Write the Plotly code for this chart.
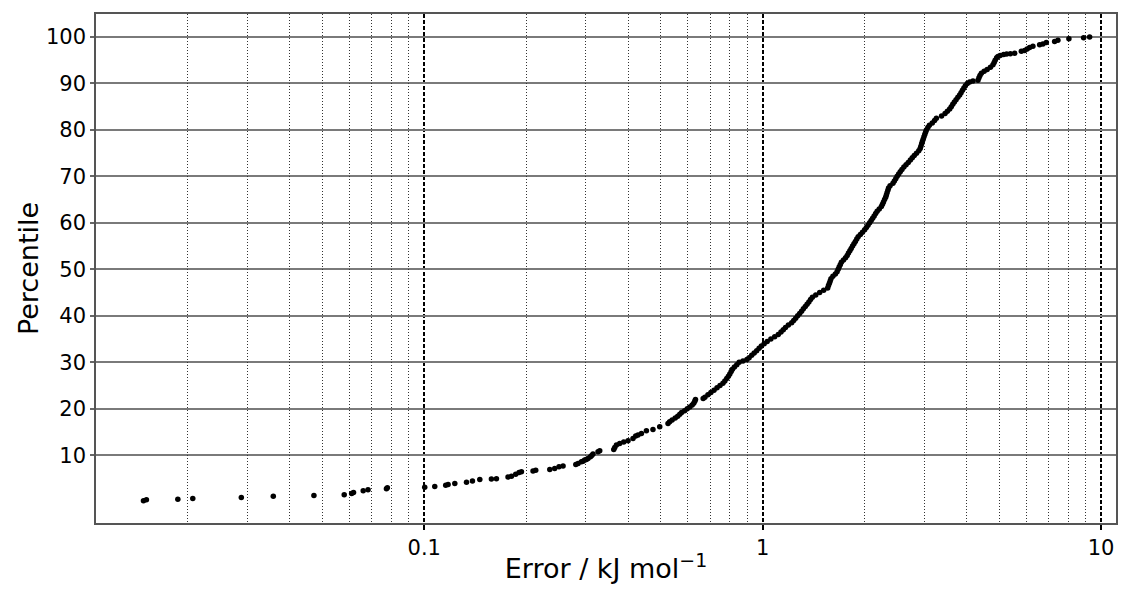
import plotly.graph_objects as go

# Cumulative error distribution
error_kj = [
    0.0148, 0.0151, 0.0187, 0.0207, 0.0288, 0.0358, 0.0472, 0.0580, 0.0610, 0.0618,
    0.0660, 0.0682, 0.0773, 0.0778, 0.1003, 0.1074, 0.1157, 0.1176, 0.1231, 0.1333,
    0.1388, 0.1459, 0.1579, 0.1634, 0.1768, 0.1810, 0.1863, 0.1906, 0.1937, 0.2096,
    0.2135, 0.2349, 0.2429, 0.2501, 0.2571, 0.2804, 0.2848, 0.2913, 0.2946, 0.2979,
    0.3013, 0.3047, 0.3097, 0.3125, 0.3152, 0.3262, 0.3300,
    0.3630, 0.3655, 0.3697, 0.3780, 0.3885, 0.4000, 0.4138, 0.4215, 0.4282, 0.4382,
    0.4533, 0.4740, 0.4963, 0.5251,
    0.531, 0.540, 0.5515, 0.561, 0.569, 0.576, 0.588, 0.5985, 0.609, 0.619, 0.6255, 0.630, 0.633,
    0.667, 0.675, 0.689, 0.703, 0.718, 0.733, 0.748, 0.763, 0.773, 0.783, 0.792, 0.7995,
    0.807, 0.814, 0.825, 0.8385, 0.852, 0.8745, 0.898, 0.9118, 0.9279, 0.9438, 0.9600,
    0.9758, 0.9912, 1.0103, 1.0311, 1.0573, 1.0851, 1.1119, 1.1326, 1.1505, 1.1678,
    1.1911, 1.2181, 1.2348, 1.2517, 1.2689, 1.2862, 1.3030, 1.3190, 1.3362, 1.3526,
    1.3693, 1.3852, 1.4023, 1.4351, 1.4737, 1.5144, 1.5561, 1.5646, 1.5742, 1.5828,
    1.5914, 1.6122, 1.6398, 1.6589, 1.6713, 1.6827, 1.6954, 1.7081, 1.7327, 1.7576,
    1.7769, 1.7927, 1.8098, 1.8260, 1.8434, 1.8611, 1.8789, 1.8969, 1.9151, 1.9440,
    1.9720, 2.0014, 2.0247, 2.0469, 2.0707, 2.0919, 2.1133, 2.1350, 2.1569, 2.1790,
    2.2104, 2.2422, 2.2591, 2.2745, 2.2916, 2.3088, 2.3198, 2.3309, 2.3436, 2.3548,
    2.3790, 2.4264, 2.4496, 2.4730, 2.4967, 2.5223, 2.5499, 2.5795, 2.6131, 2.6525,
    2.6925, 2.7314, 2.7669, 2.8048, 2.8471, 2.8920, 2.9197, 2.9336, 2.9496, 2.9637,
    2.9799, 2.9961, 3.0125, 3.0290, 3.0455, 3.0767, 3.1083, 3.1702, 3.2202, 3.2599,
    3.3772, 3.4586, 3.5133, 3.5687, 3.6078, 3.6448, 3.6847, 3.7276, 3.7735, 3.8199,
    3.8564, 3.8934, 3.9307, 3.9710, 4.0227, 4.0889, 4.1817,
    4.3264, 4.3559, 4.3857, 4.4276, 4.5127, 4.6058, 4.7103, 4.7910, 4.8304, 4.8633,
    4.9132, 4.9569, 5.0316, 5.1527, 5.2590,
    5.3930, 5.5531, 5.8120, 5.9429, 6.0447, 6.1484, 6.2880, 6.5810, 6.7305, 6.8880,
    7.2878, 7.4533, 8.0330, 8.8775, 9.2478,
]

percentile = [
    0.23, 0.45, 0.56, 0.71, 0.93, 1.21, 1.36, 1.49, 1.80, 2.00,
    2.35, 2.56, 2.78, 2.99, 3.10, 3.30, 3.57, 3.72, 3.94, 4.22,
    4.44, 4.80, 4.87, 4.93, 5.30, 5.51, 5.94, 6.31, 6.44, 6.59,
    6.80, 6.95, 7.17, 7.52, 7.67, 8.03, 8.25, 8.59, 8.74, 8.96,
    9.10, 9.32, 9.67, 9.97, 10.25, 10.75, 10.96,
    11.26, 11.69, 12.19, 12.55, 12.83, 13.11, 13.63, 14.13, 14.34, 14.71,
    15.27, 15.57, 16.13, 16.86,
    17.2, 17.6, 18.0, 18.4, 18.8, 19.2, 19.6, 20.0, 20.4, 20.8, 21.2, 21.6, 22.0,
    22.2, 22.5, 23.0, 23.5, 24.0, 24.5, 25.0, 25.5, 26.0, 26.5, 27.0, 27.5,
    28.0, 28.5, 29.0, 29.5, 30.0, 30.3, 30.6, 31.0, 31.5, 32.0, 32.5,
    33.0, 33.5, 34.0, 34.5, 35.0, 35.5, 36.0, 36.5, 37.0, 37.5,
    38.0, 38.5, 39.0, 39.5, 40.0, 40.5, 41.0, 41.5, 42.0, 42.5,
    43.0, 43.5, 44.0, 44.5, 45.0, 45.5, 46.0, 46.5, 47.0, 47.5,
    48.0, 48.5, 49.0, 49.5, 50.0, 50.5, 51.0, 51.5, 52.0, 52.5,
    53.0, 53.5, 54.0, 54.5, 55.0, 55.5, 56.0, 56.5, 57.0, 57.5,
    58.0, 58.5, 59.0, 59.5, 60.0, 60.5, 61.0, 61.5, 62.0, 62.5,
    63.0, 63.5, 64.0, 64.5, 65.0, 65.5, 66.0, 66.5, 67.0, 67.5,
    68.0, 68.5, 69.0, 69.5, 70.0, 70.5, 71.0, 71.5, 72.0, 72.5,
    73.0, 73.5, 74.0, 74.5, 75.0, 75.5, 76.0, 76.5, 77.0, 77.5,
    78.0, 78.5, 79.0, 79.5, 80.0, 80.5, 81.0, 81.5, 82.0, 82.5,
    83.0, 83.5, 84.0, 84.5, 85.0, 85.5, 86.0, 86.5, 87.0, 87.5,
    88.0, 88.5, 89.0, 89.5, 90.0, 90.3, 90.5,
    90.7, 91.2, 91.7, 92.2, 92.6, 93.0, 93.5, 94.0, 94.5, 95.0,
    95.5, 95.8, 96.0, 96.2, 96.3,
    96.4, 96.5, 96.9, 97.1, 97.4, 97.7, 98.0, 98.3, 98.5, 98.8,
    99.0, 99.3, 99.6, 99.8, 100.0,
]

x_major_ticks = [0.1, 1, 10]
x_major_labels = ["0.1", "1", "10"]
x_minor_ticks = [0.02, 0.03, 0.04, 0.05, 0.06, 0.07, 0.08, 0.09,
                 0.2, 0.3, 0.4, 0.5, 0.6, 0.7, 0.8, 0.9,
                 2, 3, 4, 5, 6, 7, 8, 9]
y_ticks = [10, 20, 30, 40, 50, 60, 70, 80, 90, 100]

FONT = "DejaVu Sans"
X_RANGE = [-1.970, 1.044]
Y_RANGE = [-4.57, 104.93]

fig = go.Figure()
# invisible trace on the overlay axis that carries the minor (dotted) grid
fig.add_trace(go.Scatter(
    x=error_kj, y=percentile, mode="markers", xaxis="x2",
    marker=dict(color="rgba(0,0,0,0)", size=1), showlegend=False, hoverinfo="skip",
))
fig.add_trace(go.Scatter(
    x=error_kj, y=percentile, mode="markers",
    marker=dict(color="black", size=5.5, line=dict(width=0)),
    showlegend=False, hoverinfo="x+y",
))

# the page body has an 8px margin, so the figure is sized to fit inside it
fig.update_layout(
    width=1111, height=576,
    margin=dict(l=88, r=3, t=6, b=61),
    paper_bgcolor="white", plot_bgcolor="white",
    font=dict(family=FONT, size=21, color="black"),
    xaxis=dict(
        type="log", range=X_RANGE, automargin=False,
        tickmode="array", tickvals=x_major_ticks, ticktext=x_major_labels,
        ticks="outside", ticklen=5, tickwidth=1.5, tickcolor="black",
        showgrid=True, gridcolor="black", gridwidth=1.5, griddash="4px,2px",
        showline=True, linecolor="#555555", linewidth=1.5, mirror=True,
        zeroline=False,
        title=dict(text="Error / kJ mol<sup>−1</sup>", font=dict(size=27, family=FONT),
                   standoff=17),
        tickfont=dict(size=21, family=FONT),
    ),
    xaxis2=dict(
        type="log", range=X_RANGE, overlaying="x", side="bottom", automargin=False,
        tickmode="array", tickvals=x_minor_ticks, showticklabels=False, ticks="",
        showgrid=True, gridcolor="#333333", gridwidth=1, griddash="1px,2px",
        showline=False, zeroline=False,
    ),
    yaxis=dict(
        range=Y_RANGE, automargin=False,
        tickmode="array", tickvals=y_ticks,
        ticks="outside", ticklen=4, tickwidth=1.5, tickcolor="#666666",
        showgrid=True, gridcolor="#7a7a7a", gridwidth=1.5,
        showline=True, linecolor="#555555", linewidth=1.5, mirror=True,
        zeroline=False,
        title=dict(text="Percentile", font=dict(size=27, family=FONT), standoff=0),
        tickfont=dict(size=21, family=FONT),
    ),
)

fig.write_html("out.html")
